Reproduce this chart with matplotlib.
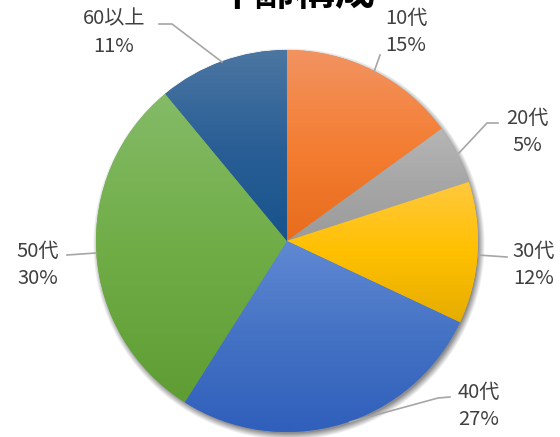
import numpy as np
import matplotlib.pyplot as plt
from matplotlib.colors import LinearSegmentedColormap

plt.rcParams['font.family'] = ['Noto Sans CJK JP', 'DejaVu Sans']

# data
labels = ['10代', '20代', '30代', '40代', '50代', '60以上']
shares = [15, 5, 12, 27, 30, 11]
top_cols = ['#F29361', '#B6B6B6', '#FFC93F', '#6089D3', '#84BB68', '#4C76A2']
mid_cols = ['#F47E33', '#A6A6A6', '#FFC000', '#4472C4', '#70AD47', '#2A5F96']
bot_cols = ['#E86C1C', '#9B9B9B', '#E6AD00', '#305FBC', '#5F9D34', '#18538C']

# label positions (image px: text centre, leader points)
lab_xy = [(406, 32), (527, 132), (534, 265), (479, 406), (38, 265), (114, 33)]
leaders = [
    [(380, 55), (374, 72)],
    [(498, 123), (487, 123), (459, 153)],
    [(507, 257), (478, 255)],
    [(450, 397), (438, 398), (350, 422)],
    [(67, 255), (96, 253)],
    [(159, 24), (172, 24), (222, 62)],
]

W, H = 560, 437
cx, cy, R = 287, H - 241, 191

fig = plt.figure(figsize=(5.6, 4.37), dpi=100)
ax = fig.add_axes([0, 0, 1, 1])
ax.set_axis_off()

# soft shadow
gx, gy = np.meshgrid(np.arange(W) + 0.5, np.arange(H) + 0.5)
d = np.hypot(gx - (cx + 2), gy - (cy - 3))
alpha = 0.45 * np.clip((R + 5 - d) / 7, 0, 1)
sh = np.zeros((H, W, 4))
sh[..., 3] = alpha
ax.imshow(sh, extent=[0, W, 0, H], origin='lower', zorder=1)

wedges, _ = ax.pie(shares, startangle=90, counterclock=False,
                   center=(cx, cy), radius=R, colors=mid_cols,
                   wedgeprops=dict(linewidth=0))
grad = np.linspace(0, 1, 256).reshape(-1, 1)
for w, c0, c1, c2 in zip(wedges, top_cols, mid_cols, bot_cols):
    w.set_zorder(2)
    bb = w.get_path().get_extents()
    cm = LinearSegmentedColormap.from_list('g', [c0, c1, c2])
    im = ax.imshow(grad, cmap=cm, extent=[bb.x0, bb.x1, bb.y0, bb.y1],
                   origin='upper', aspect='auto', zorder=3,
                   interpolation='bilinear')
    im.set_clip_path(w)

for lab, s, (tx, ty), pts in zip(labels, shares, lab_xy, leaders):
    ax.text(tx, H - ty, f'{lab}\n{s}%', ha='center', va='center',
            fontsize=14.5, color='#404040', linespacing=1.4, zorder=5)
    xs = [p[0] for p in pts]
    ys = [H - p[1] for p in pts]
    ax.plot(xs, ys, color='#A6A6A6', lw=1.2, zorder=4)

ax.text(295, H - 14, '年齢構成', ha='center', va='bottom', fontsize=29,
        fontweight='bold', color='#000000', zorder=5)

ax.set_xlim(0, W)
ax.set_ylim(0, H)
ax.set_aspect('auto')
fig.savefig('out.png', dpi=100)
